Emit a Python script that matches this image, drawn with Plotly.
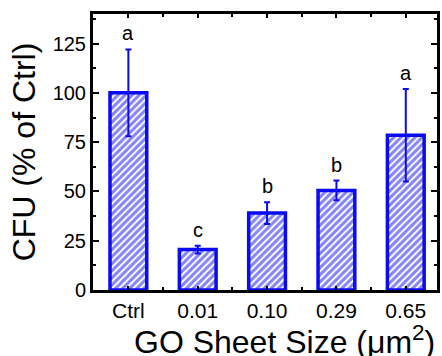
import plotly.graph_objects as go

categories = ["Ctrl", "0.01", "0.10", "0.29", "0.65"]
cfu_values = [100, 20.5, 39, 50.5, 78.5]
cfu_errors = [22, 2, 5.5, 5, 23.5]
sig_letters = ["a", "c", "b", "b", "a"]
y_ticks = [0, 25, 50, 75, 100, 125]

xpos = list(range(len(categories)))
blue = "#0a0af5"

fig = go.Figure()
fig.add_trace(go.Bar(
    x=xpos, y=cfu_values, width=0.53,
    marker=dict(color="white", line=dict(color=blue, width=3.5),
                pattern=dict(shape="/", fgcolor=blue, bgcolor="white", size=5, solidity=0.6)),
    error_y=dict(type="data", array=cfu_errors, color=blue, thickness=2, width=3),
    showlegend=False,
))

for x, v, e, t in zip(xpos, cfu_values, cfu_errors, sig_letters):
    fig.add_annotation(x=x, y=v + e, text=t, showarrow=False, yanchor="bottom", yshift=3,
                       font=dict(family="Liberation Sans, Arial", size=20, color="black"))

fig.add_annotation(xref="paper", yref="paper", x=1.0, y=-0.102, xanchor="right", yanchor="top",
                   text="GO Sheet Size (μm<sup>2</sup>)", showarrow=False,
                   font=dict(family="Liberation Sans, Arial", size=32, color="black"))

fig.update_layout(
    width=442, height=356,
    margin=dict(l=93, r=2, t=14, b=66),
    plot_bgcolor="white", paper_bgcolor="white",
    font=dict(family="Liberation Sans, Arial", color="black"),
    bargap=0.3,
)
fig.update_xaxes(
    range=[-0.51, 4.45], tickmode="array", tickvals=xpos, ticktext=categories,
    showline=True, linecolor="black", linewidth=3, mirror="ticks",
    ticks="inside", ticklen=4, tickwidth=2, tickcolor="black",
    minor=dict(tickmode="array", tickvals=[i + 0.5 for i in xpos[:-1]] + [-0.5], ticks="inside", ticklen=3, tickwidth=2, tickcolor="black"),
    tickfont=dict(size=21), showgrid=False, zeroline=False,
)
fig.update_yaxes(
    range=[0, 140], tickmode="array", tickvals=y_ticks,
    showline=True, linecolor="black", linewidth=3, mirror="ticks",
    ticks="inside", ticklen=6, tickwidth=2, tickcolor="black",
    minor=dict(dtick=12.5, ticks="inside", ticklen=3, tickwidth=2, tickcolor="black"),
    tickfont=dict(size=20), showgrid=False, zeroline=False,
    title=dict(text="CFU (% of Ctrl)", font=dict(size=32), standoff=8),
)

fig.write_html("out.html")
